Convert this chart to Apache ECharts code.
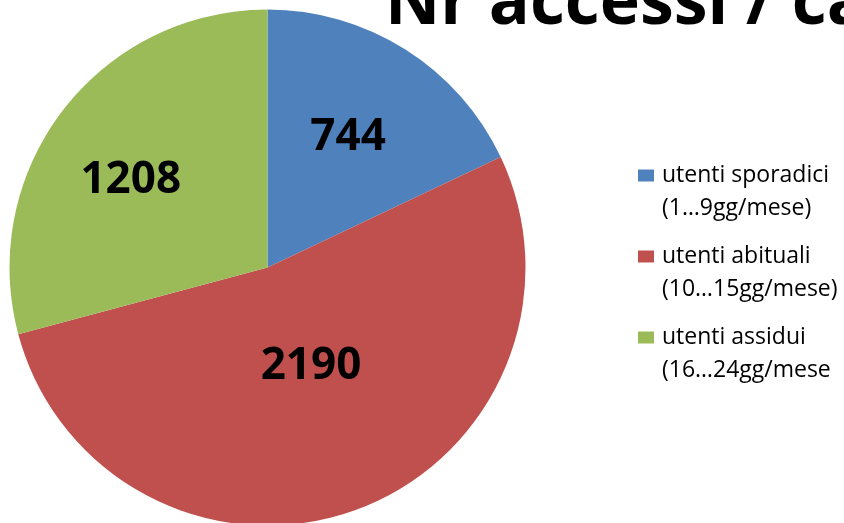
<!DOCTYPE html>
<html>
<head>
<meta charset="utf-8">
<style>
  html, body { margin: 0; padding: 0; background: #fff; }
  #chart { width: 844px; height: 523px; }
</style>
<script src="https://cdn.jsdelivr.net/npm/echarts@6/dist/echarts.min.js"></script>
</head>
<body>
<div id="chart"></div>
<script>
// dati
var categorie = [
  "utenti sporadici\n(1…9gg/mese)",
  "utenti abituali\n(10…15gg/mese)",
  "utenti assidui\n(16…24gg/mese"
];
var valori = [744, 2190, 1208];
var colori = ["#4F81BD", "#C0504D", "#9BBB59"];
// spostamento delle etichette rispetto alla posizione "inside"
var spostamenti = [[10, -18], [-2, -25], [-32, -7]];

var chartDom = document.getElementById("chart");
var myChart = echarts.init(chartDom);

var option = {
  animation: false,
  backgroundColor: "#fff",
  title: {
    text: "Nr accessi / categoria",
    left: 385,
    top: -29,
    padding: 0,
    textStyle: {
      fontFamily: "Open Sans",
      fontWeight: "bold",
      fontSize: 68,
      color: "#000"
    }
  },
  legend: {
    orient: "vertical",
    left: 638,
    top: 126,
    padding: 0,
    itemWidth: 16,
    itemHeight: 12,
    itemGap: -18,
    icon: "rect",
    data: categorie,
    // riga vuota in testa: cosi' la prima riga del testo sta accanto al quadratino
    formatter: function (nome) {
      return " \n" + nome;
    },
    textStyle: {
      fontFamily: "Open Sans",
      fontSize: 23,
      lineHeight: 33,
      color: "#000",
      padding: [0, 0, 0, 3]
    }
  },
  series: [
    {
      type: "pie",
      center: [267.5, 267.5],
      radius: 258,
      startAngle: 90,
      clockwise: true,
      label: {
        show: true,
        position: "inside",
        formatter: "{c}",
        fontFamily: "Open Sans",
        fontWeight: "bold",
        fontSize: 44,
        color: "#000"
      },
      labelLine: { show: false },
      labelLayout: function (params) {
        var s = spostamenti[params.dataIndex];
        return { dx: s[0], dy: s[1] };
      },
      emphasis: { disabled: true },
      data: categorie.map(function (nome, i) {
        return { name: nome, value: valori[i], itemStyle: { color: colori[i] } };
      })
    }
  ]
};

myChart.setOption(option);
</script>
</body>
</html>
